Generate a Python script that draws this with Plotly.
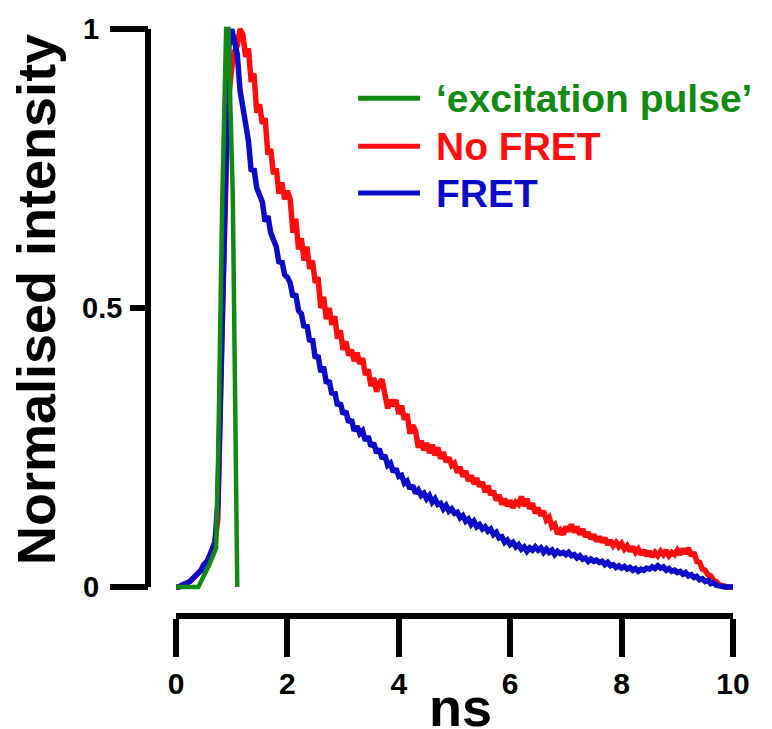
import plotly.graph_objects as go

# ---------------- data ----------------
t_decay = [round(i * 0.05, 2) for i in range(201)]  # time axis, ns (0.05 ns bins)

fret = [
    0, 0, 0.003, 0.005, 0.008, 0.01, 0.015, 0.02, 0.025, 0.03, 0.04, 0.045, 0.055, 0.065, 0.08, 0.15, 0.35, 0.6, 0.82, 0.97,
    1.0, 0.975, 0.955, 0.89, 0.86, 0.82, 0.80, 0.745, 0.75, 0.715, 0.70, 0.69, 0.655, 0.665, 0.635, 0.62, 0.61, 0.58, 0.585, 0.56,
    0.555, 0.545, 0.52, 0.525, 0.495, 0.49, 0.465, 0.47, 0.44, 0.445, 0.41, 0.415, 0.385, 0.395, 0.365, 0.37, 0.345, 0.35, 0.325, 0.33,
    0.31, 0.315, 0.295, 0.30, 0.28, 0.288, 0.275, 0.28, 0.262, 0.27, 0.252, 0.258, 0.24, 0.248, 0.23, 0.236, 0.218, 0.222, 0.206, 0.212,
    0.198, 0.2, 0.186, 0.19, 0.176, 0.182, 0.168, 0.174, 0.164, 0.168, 0.158, 0.164, 0.152, 0.158, 0.148, 0.15, 0.14, 0.146, 0.136, 0.14,
    0.132, 0.134, 0.124, 0.128, 0.118, 0.122, 0.112, 0.118, 0.108, 0.112, 0.104, 0.108, 0.1, 0.104, 0.094, 0.098, 0.088, 0.09, 0.08, 0.084,
    0.076, 0.08, 0.072, 0.076, 0.068, 0.072, 0.064, 0.07, 0.066, 0.072, 0.066, 0.07, 0.062, 0.068, 0.062, 0.066, 0.058, 0.064, 0.06, 0.062,
    0.058, 0.062, 0.056, 0.058, 0.052, 0.056, 0.05, 0.052, 0.046, 0.05, 0.046, 0.048, 0.044, 0.046, 0.04, 0.044, 0.038, 0.04, 0.035, 0.038,
    0.034, 0.037, 0.032, 0.035, 0.03, 0.033, 0.028, 0.032, 0.03, 0.034, 0.032, 0.036, 0.033, 0.038, 0.034, 0.036, 0.03, 0.033, 0.028, 0.03,
    0.026, 0.028, 0.023, 0.026, 0.02, 0.022, 0.017, 0.019, 0.013, 0.015, 0.01, 0.012, 0.006, 0.008, 0.003, 0.002, 0.0, 0.0, 0.0, 0.0,
    0.0,
]

no_fret = [
    0, 0, 0.003, 0.005, 0.008, 0.01, 0.015, 0.02, 0.025, 0.03, 0.04, 0.045, 0.055, 0.065, 0.08, 0.12, 0.3, 0.55, 0.75, 0.88,
    0.93, 0.96, 0.97, 1.0, 0.99, 0.95, 0.965, 0.905, 0.92, 0.85, 0.865, 0.83, 0.84, 0.775, 0.785, 0.74, 0.75, 0.705, 0.725, 0.695,
    0.71, 0.695, 0.635, 0.66, 0.605, 0.625, 0.585, 0.61, 0.57, 0.585, 0.545, 0.555, 0.50, 0.52, 0.48, 0.50, 0.47, 0.485, 0.445, 0.46,
    0.425, 0.44, 0.415, 0.425, 0.405, 0.42, 0.40, 0.41, 0.38, 0.39, 0.36, 0.375, 0.35, 0.365, 0.372, 0.34, 0.32, 0.335, 0.325, 0.335,
    0.31, 0.325, 0.30, 0.31, 0.275, 0.29, 0.28, 0.25, 0.262, 0.245, 0.258, 0.24, 0.255, 0.236, 0.25, 0.23, 0.242, 0.224, 0.232, 0.218,
    0.222, 0.205, 0.215, 0.198, 0.208, 0.19, 0.2, 0.185, 0.195, 0.18, 0.188, 0.17, 0.182, 0.165, 0.172, 0.155, 0.165, 0.148, 0.158, 0.145,
    0.155, 0.142, 0.152, 0.148, 0.162, 0.145, 0.158, 0.14, 0.15, 0.132, 0.142, 0.128, 0.136, 0.12, 0.125, 0.108, 0.112, 0.095, 0.102, 0.094,
    0.108, 0.1, 0.112, 0.098, 0.108, 0.094, 0.104, 0.09, 0.098, 0.086, 0.094, 0.082, 0.09, 0.08, 0.088, 0.076, 0.084, 0.074, 0.08, 0.072,
    0.078, 0.068, 0.074, 0.064, 0.072, 0.062, 0.068, 0.058, 0.066, 0.056, 0.064, 0.054, 0.062, 0.056, 0.064, 0.058, 0.066, 0.056, 0.062, 0.058,
    0.066, 0.058, 0.068, 0.06, 0.07, 0.056, 0.062, 0.046, 0.044, 0.032, 0.03, 0.022, 0.02, 0.012, 0.01, 0.004, 0.002, 0.0, 0.0, 0.0,
    0.0,
]

t_pulse = [0, 0.4, 0.5, 0.6, 0.72, 0.76, 0.83, 0.9, 0.94, 1.02, 1.1]
pulse = [0, 0, 0.02, 0.04, 0.07, 0.25, 0.69, 1.0, 1.0, 0.7, 0]

series_names = ["‘excitation pulse’", "No FRET", "FRET"]
series_colors = ["#128a12", "#ff0d0d", "#0b0bc8"]

x_ticks = [0, 2, 4, 6, 8, 10]
y_major_ticks = [0, 1]
y_major_labels = ["0", "1"]
y_mid_tick = 0.5
y_mid_label = "0.5"

# ---------------- layout geometry (pixels, figure coordinates) ----------------
OFF = 8               # page body margin offset
W, H = 772, 729
yaxis_px = 148 - OFF        # vertical axis line position
x0_px, x10_px = 176 - OFF, 733 - OFF
y0_px, y1_px = 587 - OFF, 29 - OFF
xaxis_py = 616 - OFF        # detached horizontal axis line
pad = 0.006

ml, mr = yaxis_px, W - x10_px
mt, mb = 8, H - xaxis_py
pw, ph = W - ml - mr, H - mt - mb
ppu = y0_px - y1_px
top_px = y1_px - pad * ppu
bot_px = y0_px + pad * ppu
ydom = [(H - mb - bot_px) / ph, (H - mb - top_px) / ph]
xdom = [(x0_px - ml) / pw, 1]

FONT = "Liberation Sans, Arial, sans-serif"
TICKFONT = dict(family=FONT, size=29, color="black", weight="bold")

fig = go.Figure()
fig.add_trace(go.Scatter(x=t_decay, y=no_fret, mode="lines", name=series_names[1],
                         line=dict(color=series_colors[1], width=5.5), showlegend=False))
fig.add_trace(go.Scatter(x=t_decay, y=fret, mode="lines", name=series_names[2],
                         line=dict(color=series_colors[2], width=5.5), showlegend=False))
fig.add_trace(go.Scatter(x=t_pulse, y=pulse, mode="lines", name=series_names[0],
                         line=dict(color=series_colors[0], width=4.5), showlegend=False))

# vertical axis line (from 0 to 1 only)
fig.add_shape(type="line", xref="paper", yref="y", x0=0, x1=0, y0=0, y1=1,
              line=dict(color="black", width=6))

# label of the short middle tick (0.5)
fig.add_annotation(x=(yaxis_px - 18 - 6 - ml) / pw, y=y_mid_tick, xref="paper", yref="y",
                   text=y_mid_label, showarrow=False, xanchor="right", yanchor="middle",
                   font=TICKFONT)

# legend drawn as line samples + coloured labels
leg_y = [0.876, 0.79, 0.706]
for name, col, yy in zip(series_names, series_colors, leg_y):
    fig.add_shape(type="line", xref="x", yref="y", x0=3.27, x1=4.38, y0=yy, y1=yy,
                  line=dict(color=col, width=5))
    fig.add_annotation(x=4.63, y=yy, xref="x", yref="y", text=name, showarrow=False,
                       xanchor="left", yanchor="middle",
                       font=dict(family=FONT, size=39, color=col, weight="bold"))

# axis titles
fig.add_annotation(x=5.1, y=(xaxis_py - (707 - OFF)) / ph, xref="x", yref="paper", text="ns",
                   showarrow=False, xanchor="center", yanchor="middle",
                   font=dict(family=FONT, size=54, color="black", weight="bold"))
fig.add_annotation(x=(36 - OFF - ml) / pw, y=(H - mb - (300 - OFF)) / ph, xref="paper", yref="paper",
                   text="Normalised intensity", showarrow=False, textangle=-90,
                   xanchor="center", yanchor="middle",
                   font=dict(family=FONT, size=54, color="black", weight="bold"))

fig.update_layout(
    template="none",
    width=W, height=H,
    margin=dict(l=ml, r=mr, t=mt, b=mb, pad=0, autoexpand=False),
    paper_bgcolor="white", plot_bgcolor="white",
    showlegend=False,
    xaxis=dict(domain=xdom, range=[0, 10], anchor="free", position=0, automargin=False,
               showline=True, linecolor="black", linewidth=6,
               ticks="outside", ticklen=38, tickwidth=6, tickcolor="black",
               tickvals=x_ticks, showgrid=False, zeroline=False,
               ticklabelstandoff=1,
               tickfont=dict(family=FONT, size=30, color="black", weight="bold")),
    yaxis=dict(domain=ydom, range=[-pad, 1 + pad], anchor="free", position=0, automargin=False,
               showline=False, ticks="outside", ticklen=38, tickwidth=6, tickcolor="black",
               tickvals=y_major_ticks, ticktext=y_major_labels, showgrid=False, zeroline=False,
               ticklabelstandoff=5,
               minor=dict(tickvals=[y_mid_tick], ticks="outside", ticklen=18, tickwidth=6,
                          tickcolor="black", showgrid=False),
               tickfont=TICKFONT),
)

fig.write_html("out.html")
